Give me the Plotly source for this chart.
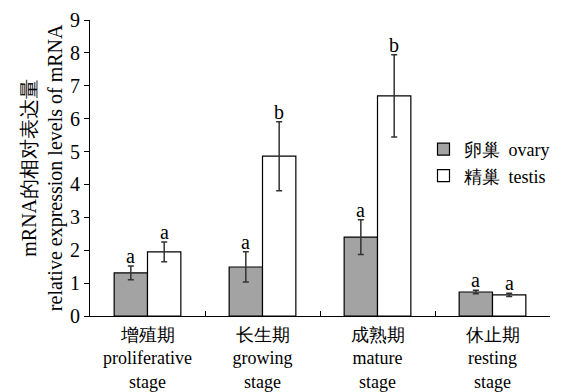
import plotly.graph_objects as go

categories = ["增殖期<br>proliferative<br>stage", "长生期<br>growing<br>stage",
              "成熟期<br>mature<br>stage", "休止期<br>resting<br>stage"]
ovary = [1.31, 1.49, 2.40, 0.73]
ovary_err = [0.21, 0.46, 0.53, 0.05]
testis = [1.95, 4.86, 6.69, 0.64]
testis_err = [0.30, 1.05, 1.25, 0.05]
ovary_letters = ["a", "a", "a", "a"]
testis_letters = ["a", "b", "b", "a"]
y_title = "mRNA的相对表达量<br>relative expression levels of mRNA"

SERIF = "Liberation Serif, Times New Roman, serif"

fig = go.Figure()
fig.add_trace(go.Bar(
    x=categories, y=ovary, name="卵巢  ovary",
    marker=dict(color="#a3a3a3", line=dict(color="#000000", width=1.2)),
    error_y=dict(type="data", array=ovary_err, color="#333333", thickness=1.5, width=3),
))
fig.add_trace(go.Bar(
    x=categories, y=testis, name="精巢  testis",
    marker=dict(color="#ffffff", line=dict(color="#000000", width=1.2)),
    error_y=dict(type="data", array=testis_err, color="#333333", thickness=1.5, width=3),
))

for cat, v, e, t in zip(categories, ovary, ovary_err, ovary_letters):
    fig.add_annotation(x=cat, y=v + e, text=t, showarrow=False, xshift=-16.7,
                       yanchor="bottom", yshift=-3, font=dict(family=SERIF, size=20, color="#000"))
for cat, v, e, t in zip(categories, testis, testis_err, testis_letters):
    fig.add_annotation(x=cat, y=v + e, text=t, showarrow=False, xshift=16.7,
                       yanchor="bottom", yshift=-3, font=dict(family=SERIF, size=20, color="#000"))

# y-axis title, placed as a rotated annotation for exact positioning
fig.add_annotation(x=-0.104, y=0.5, xref="paper", yref="paper", text=y_title,
                   textangle=-90, showarrow=False, xanchor="center", yanchor="middle",
                   font=dict(family=SERIF, size=20, color="#000"))

# page body has an 8px margin: compensate so the plot area sits at x 90-550, y 20-316
fig.update_layout(
    width=559, height=384,
    margin=dict(l=82, r=17, t=12, b=76, autoexpand=False),
    paper_bgcolor="white", plot_bgcolor="white",
    barmode="group", bargap=0.42, bargroupgap=0,
    font=dict(family=SERIF, size=18, color="#000"),
    showlegend=True,
    legend=dict(x=0.725, y=0.625, xanchor="left", yanchor="top",
                bgcolor="rgba(0,0,0,0)", font=dict(family=SERIF, size=18),
                itemwidth=30, tracegroupgap=0),
    xaxis=dict(
        showline=True, linecolor="#000", linewidth=1.2, automargin=False,
        ticks="inside", ticklen=5, tickcolor="#000", tickson="boundaries",
        tickfont=dict(family=SERIF, size=18), showgrid=False, ticklabelstandoff=2,
    ),
    yaxis=dict(
        range=[0, 9], dtick=1, showline=True, linecolor="#000", linewidth=1.2,
        automargin=False,
        ticks="outside", ticklen=5, tickcolor="#000", showgrid=False, zeroline=False,
        tickfont=dict(family=SERIF, size=20),
    ),
)

fig.write_html("out.html")
